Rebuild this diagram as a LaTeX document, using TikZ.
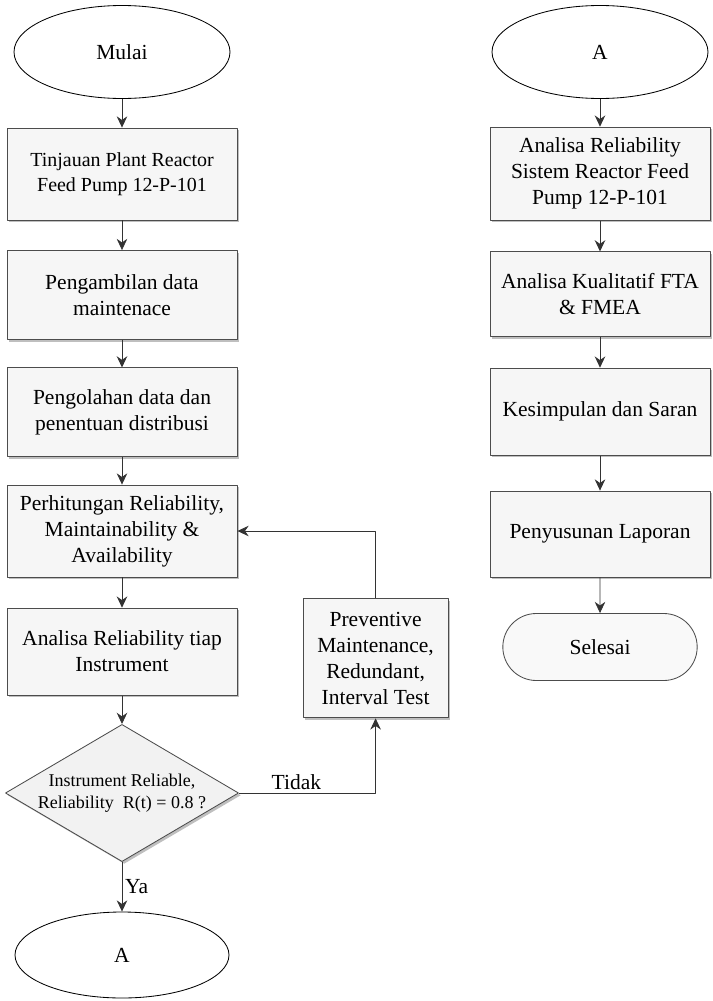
\documentclass[tikz,border=0pt]{standalone}
\usepackage{fontspec}
\setmainfont{Liberation Serif}
\usetikzlibrary{shapes.geometric,shapes.misc,shadows,arrows.meta}

\begin{document}
\begin{tikzpicture}[line join=round,>={Stealth[length=8pt,width=7.5pt]},line width=0.6pt]
	\tikzset{every node/.style={font=\fontsize{15.3}{18.5}\selectfont,align=center,inner sep=2pt},
		proses/.style={draw=black!70,fill=gray!7,minimum width=5.75cm,drop shadow={shadow xshift=1.6pt,shadow yshift=-1.6pt,fill=black!50}},
		terminal/.style={draw,ellipse,fill=white,minimum width=5.4cm,minimum height=2.325cm},
		keputusan/.style={draw=black!70,diamond,fill=gray!10,aspect=1.7,inner sep=0pt,minimum width=5.75cm,minimum height=3.4cm,drop shadow={shadow xshift=1.6pt,shadow yshift=-1.6pt,fill=black!50}},
		panah/.style={->,draw=black!80}}
	\useasboundingbox (0,0) rectangle (17.8,-25.025);
	% kolom kiri
	\node[terminal] (mulai) at (3.05,-1.3) {Mulai};
	\node[proses,minimum height=2.3cm,font=\fontsize{14.2}{17.8}\selectfont] (tinjau) at (3.05,-4.35) {Tinjauan Plant Reactor\\Feed Pump 12-P-101};
	\node[proses,minimum height=2.225cm] (ambil) at (3.05,-7.375) {Pengambilan data\\maintenace};
	\node[proses,minimum height=2.225cm] (olah) at (3.05,-10.31) {Pengolahan data dan\\penentuan distribusi};
	\node[proses,minimum height=2.3cm] (hitung) at (3.05,-13.275) {Perhitungan Reliability,\\Maintainability \&\\Availability};
	\node[proses,minimum height=2.175cm] (analisa) at (3.05,-16.29) {Analisa Reliability tiap\\Instrument};
	\node[keputusan,font=\fontsize{12.8}{15.6}\selectfont] (cek) at (3.05,-19.825) {Instrument Reliable,\\Reliability\ \ R(t) = 0.8 ?};
	\node[terminal,minimum width=5.35cm,minimum height=2.15cm] (a1) at (3.05,-23.875) {A};
	\node[proses,minimum width=3.625cm,minimum height=2.975cm] (prev) at (9.39,-16.46) {Preventive\\Maintenance,\\Redundant,\\Interval Test};
	% kolom kanan
	\node[terminal] (a2) at (15,-1.3) {A};
	\node[proses,minimum width=5.5cm,minimum height=2.325cm] (sistem) at (15,-4.34) {Analisa Reliability\\Sistem Reactor Feed\\Pump 12-P-101};
	\node[proses,minimum width=5.5cm,minimum height=2.125cm] (fta) at (15,-7.36) {Analisa Kualitatif FTA\\\& FMEA};
	\node[proses,minimum width=5.5cm,minimum height=2.175cm] (saran) at (15,-10.29) {Kesimpulan dan Saran};
	\node[proses,minimum width=5.5cm,minimum height=2.15cm] (lapor) at (15,-13.35) {Penyusunan Laporan};
	\node[draw=black!70,rounded rectangle,fill=gray!5,minimum width=5cm,minimum height=1.675cm] (selesai) at (15,-16.175) {Selesai};
	% panah
	\draw[panah] (mulai)--(tinjau);
	\draw[panah] (tinjau)--(ambil);
	\draw[panah] (ambil)--(olah);
	\draw[panah] (olah)--(hitung);
	\draw[panah] (hitung)--(analisa);
	\draw[panah] (analisa)--(cek);
	\draw[panah] (cek)-- node[right] {Ya} (a1);
	\draw[panah] (cek.east) -| node[pos=0.21,above] {Tidak} (prev.south);
	\draw[panah] (prev.north) |- (hitung.east);
	\draw[panah] (a2)--(sistem);
	\draw[panah] (sistem)--(fta);
	\draw[panah] (fta)--(saran);
	\draw[panah] (saran)--(lapor);
	\draw[panah] (lapor)--(selesai);
\end{tikzpicture}
\end{document}
